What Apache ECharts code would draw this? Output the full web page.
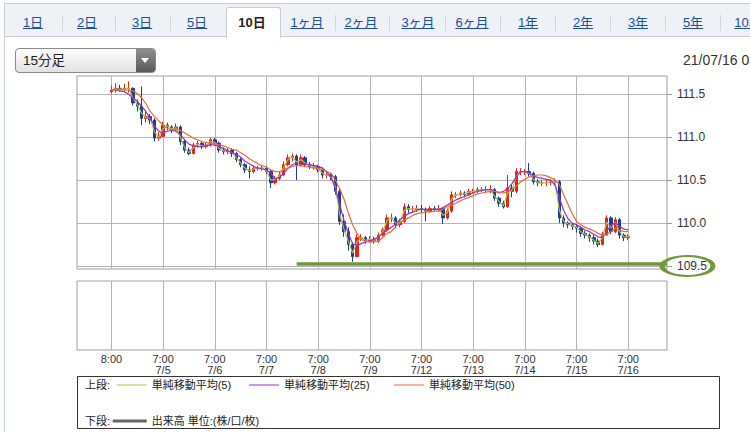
<!DOCTYPE html>
<html><head><meta charset="utf-8">
<script src="https://cdn.jsdelivr.net/npm/echarts@6.0.0/dist/echarts.min.js"></script>
<style>
html,body{margin:0;padding:0;}
body{width:750px;height:432px;overflow:hidden;background:#fff;position:relative;font-family:"Liberation Sans","Noto Sans CJK JP",sans-serif;}
#chart{position:absolute;left:0;top:0;width:750px;height:432px;}
.bar{position:absolute;left:4px;top:3px;width:800px;height:32px;background:#eef1f6;border:1px solid #c9cdd4;border-right:none;}
.panel{position:absolute;left:4px;top:36px;width:1px;height:400px;background:#c9cdd4;}
.tab{position:absolute;top:14px;font-size:13px;line-height:18px;color:#1d4f9b;text-decoration:underline;transform:translateX(-50%);white-space:nowrap;}
.tab.on{color:#222;font-weight:bold;text-decoration:none;}
.sep{position:absolute;top:15px;width:1px;height:16px;background:#d2d6dc;}
.active{position:absolute;left:226px;top:7px;width:53px;height:30px;background:#fff;border:1px solid #c9cdd4;border-bottom:none;border-radius:3px 3px 0 0;}
.dd{position:absolute;left:15px;top:48px;width:139px;height:23px;border:1px solid #8a8a8a;border-radius:4px;background:linear-gradient(#fdfdfd,#e2e2e2);overflow:hidden;}
.dd span{position:absolute;left:7px;top:3px;font-size:13.5px;line-height:17px;color:#222;}
.dd .btn{position:absolute;right:0;top:0;width:19px;height:23px;background:linear-gradient(#909090,#585858);}
.dd .btn i{position:absolute;left:5px;top:9px;width:0;height:0;border-left:4px solid transparent;border-right:4px solid transparent;border-top:5px solid #fff;}
.date{position:absolute;left:683px;top:51px;font-size:14px;line-height:18px;color:#333;white-space:nowrap;}
</style></head>
<body>
<div id="chart"></div>
<div class="bar"></div>
<div class="panel"></div>
<div class="active"></div>
<div id="tabs"></div>
<div class="dd"><span>15分足</span><div class="btn"><i></i></div></div>
<div class="date">21/07/16 08:15</div>
<script>
// ---- tabs (page UI) ----
const tabLabels = ['1日','2日','3日','5日','10日','1ヶ月','2ヶ月','3ヶ月','6ヶ月','1年','2年','3年','5年','10年'];
const tabCenters = [33,87,142,197,252,307,361,418,472,528,583,638,693,748];
const sepXs = [62,115,170,335,389,445,500,555,610,665,720];
const tabsEl = document.getElementById('tabs');
tabLabels.forEach((t, k) => {
  const s = document.createElement('span');
  s.className = 'tab' + (t === '10日' ? ' on' : '');
  s.style.left = tabCenters[k] + 'px';
  s.textContent = t;
  tabsEl.appendChild(s);
});
sepXs.forEach(x => { const d = document.createElement('div'); d.className = 'sep'; d.style.left = x + 'px'; tabsEl.appendChild(d); });

// ---- chart data (2-hour bars, 7/2 8:00 -> 7/16 8:00) ----
const dayLabels = ['8:00','7:00\n7/5','7:00\n7/6','7:00\n7/7','7:00\n7/8','7:00\n7/9','7:00\n7/12','7:00\n7/13','7:00\n7/14','7:00\n7/15','7:00\n7/16'];
const openVals = [111.53,111.55,111.57,111.56,111.57,111.57,111.40,111.36,111.22,111.24,111.20,110.99,
 111.01,111.14,111.12,111.09,111.12,110.95,110.85,110.81,110.91,110.93,110.89,110.91,
 110.97,110.93,110.85,110.83,110.85,110.81,110.74,110.68,110.62,110.60,110.64,110.64,
 110.64,110.60,110.47,110.52,110.56,110.68,110.76,110.78,110.68,110.76,110.68,110.66,
 110.66,110.62,110.56,110.56,110.54,110.37,110.02,109.90,109.75,109.61,109.83,109.83,
 109.79,109.81,109.79,109.86,109.92,110.06,110.06,109.98,110.02,110.19,110.16,110.16,
 110.17,110.16,110.14,110.17,110.16,110.17,110.06,110.14,110.33,110.33,110.35,110.33,
 110.37,110.37,110.39,110.39,110.39,110.39,110.29,110.23,110.19,110.41,110.37,110.60,
 110.60,110.60,110.58,110.48,110.47,110.47,110.47,110.48,110.48,110.06,110.00,109.98,
 109.96,109.94,109.88,109.86,109.83,109.79,109.75,109.86,110.06,109.90,110.04,109.86,
 109.83];
const closeVals = [111.55,111.57,111.56,111.57,111.57,111.40,111.36,111.22,111.24,111.20,110.99,111.01,
 111.14,111.12,111.09,111.12,110.95,110.85,110.81,110.91,110.93,110.89,110.91,110.97,
 110.93,110.85,110.83,110.85,110.81,110.74,110.68,110.62,110.60,110.64,110.64,110.64,
 110.60,110.47,110.52,110.56,110.68,110.76,110.78,110.68,110.76,110.68,110.66,110.66,
 110.62,110.56,110.56,110.54,110.37,110.02,109.90,109.75,109.61,109.83,109.83,109.79,
 109.81,109.79,109.86,109.92,110.06,110.06,109.98,110.02,110.19,110.16,110.16,110.17,
 110.16,110.14,110.17,110.16,110.17,110.06,110.14,110.33,110.33,110.35,110.33,110.37,
 110.37,110.39,110.39,110.39,110.39,110.29,110.23,110.19,110.41,110.37,110.60,110.60,
 110.60,110.58,110.48,110.47,110.47,110.47,110.48,110.48,110.06,110.00,109.98,109.96,
 109.94,109.88,109.86,109.83,109.79,109.75,109.86,110.06,109.90,110.04,109.86,109.83,
 109.84];
const lowVals = [111.51,111.52,111.53,111.53,111.52,111.37,111.30,111.14,111.17,111.15,110.95,110.96,
 111.00,111.08,111.05,111.07,110.91,110.82,110.79,110.80,110.88,110.86,110.87,110.89,
 110.90,110.82,110.80,110.80,110.77,110.71,110.65,110.58,110.52,110.58,110.61,110.61,
 110.57,110.41,110.45,110.50,110.55,110.66,110.72,110.50,110.66,110.65,110.63,110.62,
 110.59,110.52,110.52,110.50,110.33,109.98,109.84,109.68,109.55,109.60,109.79,109.76,
 109.77,109.76,109.77,109.84,109.90,110.01,109.94,109.95,110.00,110.12,110.12,110.13,
 110.12,110.02,110.12,110.13,110.13,109.99,110.04,110.12,110.29,110.31,110.30,110.32,
 110.34,110.35,110.36,110.36,110.35,110.26,110.19,110.17,110.18,110.30,110.35,110.56,
 110.56,110.54,110.45,110.43,110.43,110.43,110.44,110.45,110.00,109.95,109.94,109.92,
 109.89,109.84,109.82,109.78,109.75,109.72,109.74,109.85,109.87,109.88,109.82,109.79,
 109.80];
const highVals = [111.60,111.63,111.61,111.62,111.65,111.58,111.44,111.59,111.30,111.27,111.22,111.06,
 111.18,111.17,111.14,111.16,111.14,110.97,110.88,110.94,110.96,110.95,110.94,110.99,
 110.99,110.95,110.88,110.88,110.87,110.83,110.76,110.70,110.66,110.67,110.67,110.67,
 110.66,110.62,110.55,110.60,110.72,110.80,110.81,110.80,110.80,110.78,110.71,110.70,
 110.68,110.65,110.60,110.58,110.56,110.40,110.10,109.95,109.78,109.87,109.87,109.85,
 109.85,109.84,109.89,109.95,110.10,110.11,110.08,110.05,110.23,110.22,110.20,110.21,
 110.21,110.18,110.20,110.20,110.21,110.18,110.17,110.37,110.36,110.38,110.37,110.40,
 110.40,110.42,110.42,110.43,110.44,110.41,110.31,110.26,110.56,110.45,110.64,110.64,
 110.63,110.70,110.60,110.51,110.50,110.51,110.51,110.52,110.50,110.09,110.02,110.00,
 109.99,109.96,109.91,109.88,109.86,109.82,109.90,110.09,110.08,110.07,110.06,109.88,
 109.87];
const ma5Vals = [111.55,111.56,111.56,111.56,111.57,111.46,111.38,111.28,111.23,111.22,111.06,111.00,
 111.10,111.13,111.10,111.11,111.00,110.88,110.82,110.88,110.92,110.90,110.90,110.95,
 110.94,110.87,110.84,110.84,110.82,110.76,110.70,110.64,110.61,110.63,110.64,110.64,
 110.61,110.50,110.51,110.55,110.65,110.74,110.77,110.71,110.74,110.70,110.67,110.66,
 110.63,110.58,110.56,110.54,110.42,110.10,109.93,109.79,109.65,109.78,109.83,109.80,
 109.81,109.79,109.84,109.90,110.03,110.06,110.00,110.01,110.15,110.17,110.16,110.17,
 110.16,110.15,110.16,110.16,110.17,110.09,110.12,110.28,110.33,110.34,110.34,110.36,
 110.37,110.38,110.39,110.39,110.39,110.31,110.25,110.20,110.35,110.38,110.55,110.60,
 110.60,110.58,110.51,110.47,110.47,110.47,110.48,110.48,110.15,110.02,109.99,109.97,
 109.95,109.90,109.87,109.84,109.80,109.76,109.83,110.01,109.94,110.01,109.90,109.84,
 109.84];
const ma25Vals = [111.55,111.55,111.54,111.53,111.50,111.46,111.42,111.36,111.30,111.22,111.13,111.07,
 111.05,111.07,111.08,111.07,111.03,110.97,110.92,110.90,110.89,110.89,110.90,110.91,
 110.91,110.89,110.87,110.84,110.82,110.80,110.77,110.72,110.69,110.66,110.64,110.63,
 110.62,110.58,110.52,110.53,110.58,110.64,110.68,110.70,110.70,110.69,110.68,110.67,
 110.66,110.64,110.60,110.53,110.40,110.22,110.03,109.88,109.76,109.74,109.76,109.78,
 109.79,109.81,109.84,109.88,109.92,109.95,109.99,110.04,110.08,110.11,110.13,110.15,
 110.16,110.16,110.16,110.16,110.16,110.18,110.21,110.24,110.27,110.29,110.31,110.33,
 110.35,110.37,110.38,110.39,110.39,110.37,110.35,110.37,110.40,110.46,110.54,110.60,
 110.60,110.58,110.55,110.53,110.52,110.51,110.50,110.44,110.30,110.15,110.05,110.00,
 109.98,109.95,109.92,109.90,109.87,109.84,109.83,109.90,109.98,110.00,109.96,109.93,
 109.92];
const ma50Vals = [111.55,111.55,111.55,111.55,111.55,111.54,111.51,111.46,111.39,111.30,111.24,111.19,
 111.14,111.10,111.09,111.09,111.08,111.05,111.02,110.99,110.97,110.95,110.94,110.93,
 110.92,110.91,110.90,110.88,110.86,110.85,110.82,110.79,110.75,110.72,110.69,110.67,
 110.65,110.62,110.60,110.60,110.62,110.64,110.66,110.67,110.67,110.66,110.65,110.64,
 110.64,110.62,110.60,110.58,110.50,110.40,110.28,110.12,109.98,109.88,109.81,109.79,
 109.78,109.78,109.79,109.83,109.88,109.90,109.96,110.00,110.04,110.06,110.09,110.11,
 110.12,110.13,110.13,110.14,110.14,110.16,110.19,110.21,110.23,110.26,110.28,110.30,
 110.32,110.34,110.35,110.36,110.37,110.37,110.36,110.35,110.37,110.39,110.43,110.48,
 110.51,110.54,110.55,110.56,110.56,110.55,110.53,110.50,110.45,110.33,110.22,110.11,
 110.02,109.98,109.95,109.93,109.91,109.88,109.86,109.87,109.90,109.94,109.92,109.90,
 109.90];
const volumeVals = []; // FX: no volume shown
const yTickVals = [109.5, 110.0, 110.5, 111.0, 111.5];
const supportLevel = 109.527;      // hand-drawn green support line
const supportStartBar = 43;        // bar where the green line starts
const seriesNames = ['単純移動平均(5)','単純移動平均(25)','単純移動平均(50)'];
const volumeName = '出来高 単位:(株/口/枚)';

// ---- build category slots (empty padding on both sides) ----
const PAD_L = 8, PAD_R = 9, BARS_PER_DAY = 12;
const nBars = closeVals.length;
const N = PAD_L + nBars + PAD_R;
const cats = [];
const daySlots = new Set();
for (let k = 0; k < N; k++) {
  const i = k - PAD_L;
  if (i >= 0 && i % BARS_PER_DAY === 0 && i / BARS_PER_DAY < dayLabels.length) {
    cats.push(dayLabels[i / BARS_PER_DAY]); daySlots.add(k);
  } else cats.push('s' + k);
}
const slotData = (fn) => cats.map((c, k) => { const i = k - PAD_L; return (i >= 0 && i < nBars) ? fn(i) : '-'; });
const candleData = slotData(i => [openVals[i], closeVals[i], lowVals[i], highVals[i]]);
const FONT = '"Liberation Sans","Noto Sans CJK JP",sans-serif';
const GRID_C = '#b5b5b5';

const chart = echarts.init(document.getElementById('chart'), null, { renderer: 'svg' });
const legendBase = {
  orient: 'horizontal', padding: 0, itemGap: 0, icon: 'rect', selectedMode: false,
  itemWidth: 30, itemHeight: 1,
  textStyle: { fontSize: 11, color: '#222', fontFamily: FONT, lineHeight: 14 }
};
chart.setOption({
  animation: false,
  textStyle: { fontFamily: FONT },
  grid: [
    { left: 77, top: 76, width: 590, height: 193, show: true, borderColor: '#a0a0a0', borderWidth: 1, backgroundColor: 'transparent' },
    { left: 77, top: 94.3, width: 590, height: 171.7 },
    { left: 77, top: 281, width: 590, height: 69, show: true, borderColor: '#a0a0a0', borderWidth: 1, backgroundColor: 'transparent' }
  ],
  xAxis: [
    { gridIndex: 0, type: 'category', data: cats, boundaryGap: false,
      axisLine: { show: false }, axisTick: { show: false }, axisLabel: { show: false },
      splitLine: { show: true, interval: (idx) => daySlots.has(idx), lineStyle: { color: GRID_C, width: 1 } } },
    { gridIndex: 1, type: 'category', data: cats, boundaryGap: false, show: false },
    { gridIndex: 2, type: 'category', data: cats, boundaryGap: false,
      axisLine: { show: false }, axisTick: { show: false },
      axisLabel: { show: true, interval: (idx) => daySlots.has(idx), color: '#333', fontSize: 11, lineHeight: 11, margin: 3, fontFamily: FONT },
      splitLine: { show: true, interval: (idx) => daySlots.has(idx), lineStyle: { color: GRID_C, width: 1 } } }
  ],
  yAxis: [
    { gridIndex: 0, type: 'value', min: 0, max: 1, show: false },
    { gridIndex: 1, type: 'value', position: 'right',
      min: yTickVals[0], max: yTickVals[yTickVals.length - 1], interval: yTickVals[1] - yTickVals[0],
      axisLine: { show: false },
      axisTick: { show: true, inside: false, length: 5, lineStyle: { color: '#999' } },
      axisLabel: { color: '#333', fontSize: 12, margin: 10, formatter: v => v.toFixed(1), fontFamily: FONT },
      splitLine: { show: true, lineStyle: { color: GRID_C, width: 1 } } },
    { gridIndex: 2, type: 'value', min: 0, max: 1, show: false }
  ],
  legend: [
    Object.assign({}, legendBase, { data: [seriesNames[0]], left: 116.7, top: 378 }),
    Object.assign({}, legendBase, { data: [seriesNames[1]], left: 249, top: 378 }),
    Object.assign({}, legendBase, { data: [seriesNames[2]], left: 394, top: 378 }),
    Object.assign({}, legendBase, { data: [volumeName], left: 112.7, top: 414, itemWidth: 34, itemHeight: 3 })
  ],
  series: [
    { type: 'candlestick', name: 'USD/JPY', xAxisIndex: 1, yAxisIndex: 1, data: candleData, barWidth: 3, clip: false,
      itemStyle: { color: '#e2231a', color0: '#1d3a9e', borderColor: '#e2231a', borderColor0: '#1d3a9e', borderWidth: 1 },
      markLine: { silent: true, symbol: ['none', 'none'], label: { show: false },
        lineStyle: { color: '#6f9a3c', width: 3.5, type: 'solid' },
        data: [[ { coord: [cats[PAD_L + supportStartBar], supportLevel] }, { coord: [cats[N - 1], supportLevel] } ]] } },
    { type: 'line', name: seriesNames[0], xAxisIndex: 1, yAxisIndex: 1, data: slotData(i => ma5Vals[i]), symbol: 'none', clip: false,
      color: '#a8c83a', lineStyle: { color: '#a8c83a', width: 1.2 } },
    { type: 'line', name: seriesNames[1], xAxisIndex: 1, yAxisIndex: 1, data: slotData(i => ma25Vals[i]), symbol: 'none', clip: false,
      color: '#9b30d0', lineStyle: { color: '#9b30d0', width: 1.2 } },
    { type: 'line', name: seriesNames[2], xAxisIndex: 1, yAxisIndex: 1, data: slotData(i => ma50Vals[i]), symbol: 'none', clip: false,
      color: '#ee6a3a', lineStyle: { color: '#ee6a3a', width: 1.2 } },
    { type: 'bar', name: volumeName, xAxisIndex: 2, yAxisIndex: 2, data: volumeVals, color: '#666' }
  ],
  graphic: [
    { type: 'rect', silent: true, shape: { x: 77.5, y: 376.5, width: 642, height: 52 }, style: { fill: 'none', stroke: '#333', lineWidth: 1 }, z: 10 },
    { type: 'text', silent: true, x: 85, y: 385, style: { text: '上段:', fontSize: 11, fill: '#222', verticalAlign: 'middle', fontFamily: FONT }, z: 10 },
    { type: 'text', silent: true, x: 85, y: 421, style: { text: '下段:', fontSize: 11, fill: '#222', verticalAlign: 'middle', fontFamily: FONT }, z: 10 },
    { type: 'circle', silent: true, x: 687.5, y: 266, scaleX: 2.55, shape: { cx: 0, cy: 0, r: 10 },
      style: { fill: 'none', stroke: '#6f9a3c', lineWidth: 2, strokeNoScale: true }, z: 20 }
  ]
});
</script>
</body></html>
